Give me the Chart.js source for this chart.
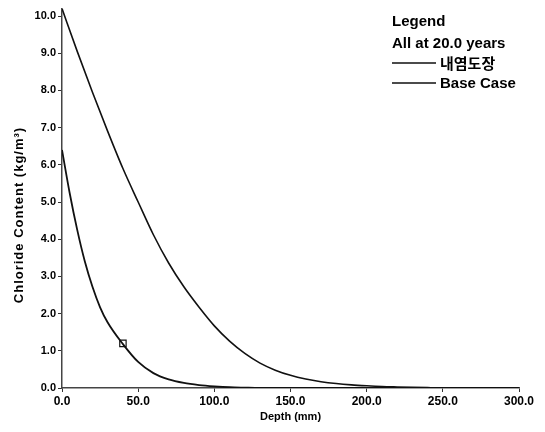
<!DOCTYPE html>
<html>
<head>
<meta charset="utf-8">
<script src="https://cdn.jsdelivr.net/npm/chart.js@4/dist/chart.umd.min.js"></script>
<style>
  body { margin: 0; background: #fff; }
  canvas { display: block; }
</style>
</head>
<body>
<canvas id="chlorideChart" width="545" height="432"></canvas>
<script>
// depth (mm) and chloride content (kg/m3)
const baseDepth = [0, 10, 20, 30, 40, 50, 60, 70, 80, 90, 100, 110, 120, 130, 140, 150, 160, 170, 180, 190, 200, 210, 220, 230, 240, 250, 300];
const baseValues = [10.2, 9.05, 7.95, 6.9, 5.9, 5.0, 4.12, 3.36, 2.72, 2.17, 1.67, 1.26, 0.93, 0.67, 0.48, 0.34, 0.24, 0.17, 0.12, 0.085, 0.06, 0.04, 0.028, 0.018, 0.01, 0.004, 0];
const coatDepth = [0, 5, 10, 15, 20, 25, 30, 40, 50, 60, 70, 80, 90, 100, 110, 120, 130, 300];
const coatValues = [6.4, 5.25, 4.25, 3.4, 2.72, 2.17, 1.76, 1.18, 0.7, 0.4, 0.23, 0.135, 0.08, 0.045, 0.02, 0.01, 0.003, 0];
const markerDepth = [40];
const markerValues = [1.2];
const yTicks = [0, 1, 2, 3, 4, 5, 6, 7, 8, 9, 10];

const legendTitle = 'Legend';
const legendSub = 'All at 20.0 years';
const seriesNames = ['내염도장', 'Base Case'];
const xTitle = 'Depth (mm)';
const yTitle = 'Chloride Content (kg/m³)';

function toPoints(xs, ys) {
    return xs.map((x, i) => ({ x: x, y: ys[i] }));
}

const textPlugin = {
    id: 'textPlugin',
    afterDraw(chart) {
        const ctx = chart.ctx;
        const area = chart.chartArea;
        ctx.save();
        ctx.fillStyle = '#000';
        ctx.strokeStyle = '#111';
        ctx.textBaseline = 'alphabetic';

        // legend block
        ctx.font = 'bold 15px "Liberation Sans", Arial, sans-serif';
        ctx.textAlign = 'left';
        ctx.fillText(legendTitle, 392, 26);
        ctx.fillText(legendSub, 392, 48);
        ctx.lineWidth = 1.3;
        ctx.beginPath();
        ctx.moveTo(392, 63); ctx.lineTo(436, 63);
        ctx.moveTo(392, 83); ctx.lineTo(436, 83);
        ctx.stroke();
        ctx.font = 'bold 15px "Noto Sans CJK KR", sans-serif';
        ctx.fillText(seriesNames[0], 440, 69);
        ctx.font = 'bold 15px "Liberation Sans", Arial, sans-serif';
        ctx.fillText(seriesNames[1], 440, 88);

        // axis titles
        ctx.font = 'bold 11px "Liberation Sans", Arial, sans-serif';
        ctx.textAlign = 'center';
        ctx.fillText(xTitle, (area.left + area.right) / 2, 420);

        ctx.translate(23, 215);
        ctx.rotate(-Math.PI / 2);
        ctx.font = 'bold 13px "Liberation Sans", Arial, sans-serif';
        ctx.letterSpacing = '1px';
        ctx.fillText(yTitle, 0, 0);
        ctx.restore();
    }
};

const ctx = document.getElementById('chlorideChart').getContext('2d');
const chlorideChart = new Chart(ctx, {
    type: 'line',
    data: {
        datasets: [{
            label: seriesNames[1],
            data: toPoints(baseDepth, baseValues),
            borderColor: '#111',
            borderWidth: 1.6,
            pointRadius: 0,
            cubicInterpolationMode: 'monotone'
        }, {
            label: seriesNames[0],
            data: toPoints(coatDepth, coatValues),
            borderColor: '#111',
            borderWidth: 1.8,
            pointRadius: 0,
            cubicInterpolationMode: 'monotone'
        }, {
            label: 'marker',
            data: toPoints(markerDepth, markerValues),
            showLine: false,
            pointStyle: 'rect',
            pointRadius: 4.5,
            pointBackgroundColor: '#fff',
            pointBorderColor: '#111',
            pointBorderWidth: 1.2
        }]
    },
    options: {
        responsive: false,
        animation: false,
        layout: {
            padding: { top: 5, right: 26, left: 0, bottom: 0 }
        },
        plugins: {
            legend: { display: false },
            tooltip: { enabled: false }
        },
        scales: {
            x: {
                type: 'linear',
                min: 0,
                max: 300,
                ticks: {
                    stepSize: 50,
                    padding: 2,
                    color: '#000',
                    font: { family: '"Liberation Sans", Arial, sans-serif', size: 12, weight: 'bold' },
                    callback: (v) => v.toFixed(1)
                },
                grid: { drawOnChartArea: false, tickLength: 4, color: '#333' },
                border: { color: '#444', width: 1.5, dash: [2, 1] },
                afterFit: (s) => { s.height = 44; }
            },
            y: {
                min: 0,
                max: 10.2,
                afterBuildTicks: (s) => { s.ticks = yTicks.map(v => ({ value: v })); },
                ticks: {
                    padding: 2,
                    color: '#000',
                    font: { family: '"Liberation Sans", Arial, sans-serif', size: 11, weight: 'bold' },
                    callback: (v) => v.toFixed(1)
                },
                grid: { drawOnChartArea: false, tickLength: 4, color: '#333' },
                border: { color: '#444', width: 1.5, dash: [1, 1] },
                afterFit: (s) => { s.width = 62; }
            }
        }
    },
    plugins: [textPlugin]
});
</script>
</body>
</html>
